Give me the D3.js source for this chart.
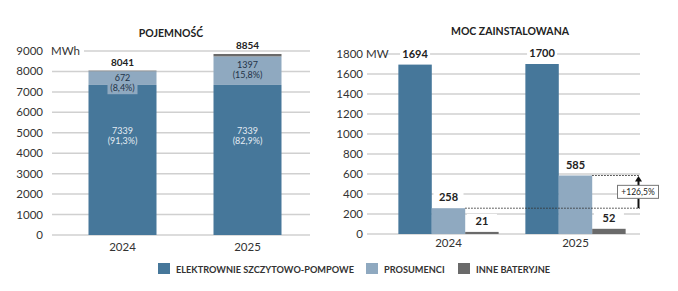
<!DOCTYPE html>
<html>
<head>
<meta charset="utf-8">
<script src="https://cdn.jsdelivr.net/npm/d3@7"></script>
<style>
  body { margin: 0; background: #fff; }
  text { font-family: Lato, "Open Sans", sans-serif; }
</style>
</head>
<body>
<div id="chart"></div>
<script>
// data
var years = ["2024", "2025"];
var seriesNames = ["ELEKTROWNIE SZCZYTOWO-POMPOWE", "PROSUMENCI", "INNE BATERYJNE"];
var capacity = [ // MWh
  [7339, 672, 30],
  [7339, 1397, 118]
];
var capacityTotals = [8041, 8854];
var capacityShares = [["91,3%", "8,4%"], ["82,9%", "15,8%"]];
var power = [ // MW
  [1694, 258, 21],
  [1700, 585, 52]
];
var capTicks = [0, 1000, 2000, 3000, 4000, 5000, 6000, 7000, 8000, 9000];
var powTicks = [0, 200, 400, 600, 800, 1000, 1200, 1400, 1600, 1800];
var growthLabel = "+126,5%";

var WIDTH = 678, HEIGHT = 291;
var colors = ["#46779a", "#8fa9c0", "#6a6a6a"];

var svg = d3.select("#chart").append("svg")
  .attr("width", WIDTH).attr("height", HEIGHT);

// ---------- left chart: POJEMNOŚĆ ----------
var yL = d3.scaleLinear().domain([0, 9000]).range([235, 51]);
var xL = d3.scaleBand().domain(years).range([60, 310])
  .paddingInner(0.456).paddingOuter(0.228);

var gL = svg.append("g");

gL.selectAll("line.grid").data(capTicks).enter().append("line")
  .attr("x1", function (d) { return d == 9000 ? 84 : 52; })
  .attr("x2", 310)
  .attr("y1", function (d) { return yL(d); })
  .attr("y2", function (d) { return yL(d); })
  .style("stroke", "#d0d0d0").style("stroke-width", 1.5);

gL.selectAll("text.tick").data(capTicks).enter().append("text")
  .attr("x", 43).attr("y", function (d) { return yL(d) + 4; })
  .attr("text-anchor", "end")
  .style("font-size", "11.5px").style("fill", "#333")
  .text(function (d) { return d; });

gL.append("text").attr("x", 51).attr("y", yL(9000) + 4)
  .style("font-size", "11.5px").style("fill", "#333").text("MWh");

gL.append("text").attr("x", 171).attr("y", 37).attr("text-anchor", "middle")
  .style("font-size", "10.5px").style("font-weight", "bold").style("fill", "#222")
  .text("POJEMNOŚĆ");

// stacked bars
var stack = capacity.map(function (row, i) {
  var acc = 0;
  return row.map(function (v, j) {
    var seg = { year: years[i], s: j, y0: acc, y1: acc + v, v: v };
    acc += v;
    return seg;
  });
});

gL.selectAll("g.bar").data(stack).enter().append("g")
  .selectAll("rect").data(function (d) { return d; }).enter().append("rect")
  .attr("x", function (d) { return xL(d.year); })
  .attr("width", xL.bandwidth())
  .attr("y", function (d) { return yL(d.y1); })
  .attr("height", function (d) { return yL(d.y0) - yL(d.y1); })
  .style("fill", function (d) { return colors[d.s]; });

stack.forEach(function (segs, i) {
  var cx = xL(years[i]) + xL.bandwidth() / 2;
  // teal segment labels
  gL.append("text").attr("x", cx).attr("y", yL(segs[0].y1) + 49)
    .attr("text-anchor", "middle").style("font-size", "9px").style("fill", "#e4ecf3")
    .text(segs[0].v);
  gL.append("text").attr("x", cx).attr("y", yL(segs[0].y1) + 59.5)
    .attr("text-anchor", "middle").style("font-size", "9px").style("fill", "#e4ecf3")
    .text("(" + capacityShares[i][0] + ")");
  // prosumer labels
  var top = yL(segs[1].y1);
  if (i == 0) {
    gL.append("rect").attr("x", cx - 15).attr("y", top + 13).attr("width", 30).attr("height", 10)
      .style("fill", colors[1]);
  }
  gL.append("text").attr("x", cx).attr("y", top + (i == 0 ? 9.5 : 11.5))
    .attr("text-anchor", "middle").style("font-size", "9px").style("fill", "#1f3347")
    .text(segs[1].v);
  gL.append("text").attr("x", cx).attr("y", top + (i == 0 ? 20 : 22))
    .attr("text-anchor", "middle").style("font-size", "9px").style("fill", "#1f3347")
    .text("(" + capacityShares[i][1] + ")");
  // totals
  gL.append("text").attr("x", cx).attr("y", yL(capacityTotals[i]) - 5)
    .attr("text-anchor", "middle").style("font-size", "10px").style("font-weight", "bold")
    .style("fill", "#222").text(capacityTotals[i]);
  // x labels
  gL.append("text").attr("x", cx).attr("y", 251).attr("text-anchor", "middle")
    .style("font-size", "11.5px").style("fill", "#333").text(years[i]);
});

// ---------- right chart: MOC ZAINSTALOWANA ----------
var yR = d3.scaleLinear().domain([0, 1800]).range([234, 54]);
var x0 = d3.scaleBand().domain(years).range([385, 639]);
var x1 = d3.scaleBand().domain(d3.range(3)).range([0, x0.bandwidth()])
  .paddingInner(0).paddingOuter(0.4);

var gR = svg.append("g");

gR.selectAll("line.grid").data(powTicks).enter().append("line")
  .attr("x1", function (d) { return d == 1800 ? 386 : 367; })
  .attr("x2", 640)
  .attr("y1", function (d) { return yR(d); })
  .attr("y2", function (d) { return yR(d); })
  .style("stroke", "#d0d0d0").style("stroke-width", 1.5);

gR.selectAll("text.tick").data(powTicks).enter().append("text")
  .attr("x", 363).attr("y", function (d) { return yR(d) + 4; })
  .attr("text-anchor", "end")
  .style("font-size", "11.5px").style("fill", "#333")
  .text(function (d) { return d; });

gR.append("text").attr("x", 366).attr("y", yR(1800) + 4)
  .style("font-size", "11.5px").style("fill", "#333").text("MW");

gR.append("text").attr("x", 510).attr("y", 35).attr("text-anchor", "middle")
  .style("font-size", "10.5px").style("font-weight", "bold").style("fill", "#222")
  .text("MOC ZAINSTALOWANA");

var groups = gR.selectAll("g.grp").data(power).enter().append("g")
  .attr("transform", function (d, i) { return "translate(" + x0(years[i]) + ",0)"; });

groups.selectAll("rect").data(function (d) { return d; }).enter().append("rect")
  .attr("x", function (d, j) { return x1(j); })
  .attr("width", x1.bandwidth())
  .attr("y", function (d) { return yR(d); })
  .attr("height", function (d) { return yR(0) - yR(d); })
  .style("fill", function (d, j) { return colors[j]; });

// value labels with white background
groups.selectAll("rect.lbg").data(function (d) { return d; }).enter().append("rect")
  .attr("x", function (d, j) { return x1(j) + x1.bandwidth() / 2 - 15; })
  .attr("y", function (d) { return yR(d) - 18; })
  .attr("width", 30).attr("height", 13)
  .style("fill", "#fff");

groups.selectAll("text.val").data(function (d) { return d; }).enter().append("text")
  .attr("x", function (d, j) { return x1(j) + x1.bandwidth() / 2; })
  .attr("y", function (d) { return yR(d) - 7; })
  .attr("text-anchor", "middle")
  .style("font-size", "11px").style("font-weight", "bold").style("fill", "#222")
  .text(function (d) { return d; });

years.forEach(function (yr, i) {
  gR.append("text").attr("x", x0(yr) + x0.bandwidth() / 2).attr("y", 247)
    .attr("text-anchor", "middle").style("font-size", "11.5px").style("fill", "#333").text(yr);
});

// growth annotation
var lowY = yR(power[0][1]), highY = yR(power[1][1]);
gR.append("line")
  .attr("x1", x0("2024") + x1(1) + x1.bandwidth()).attr("x2", 640)
  .attr("y1", lowY).attr("y2", lowY)
  .style("stroke", "#333").style("stroke-width", 1).style("stroke-dasharray", "1.5,1.5");
gR.append("line")
  .attr("x1", x0("2025") + x1(1) + x1.bandwidth()).attr("x2", 640)
  .attr("y1", highY).attr("y2", highY)
  .style("stroke", "#333").style("stroke-width", 1).style("stroke-dasharray", "1.5,1.5");
gR.append("line").attr("x1", 638.5).attr("x2", 638.5)
  .attr("y1", lowY).attr("y2", highY + 4)
  .style("stroke", "#111").style("stroke-width", 2);
gR.append("path")
  .attr("d", "M" + 635 + "," + (highY + 6) + "L638.5," + (highY + 0.5) + "L642," + (highY + 6) + "Z")
  .style("fill", "#111");
var boxY = (lowY + highY) / 2;
gR.append("rect").attr("x", 617.5).attr("y", boxY - 6.5).attr("width", 41).attr("height", 13)
  .style("fill", "#fff").style("stroke", "#777").style("stroke-width", 1);
gR.append("text").attr("x", 638).attr("y", boxY + 3).attr("text-anchor", "middle")
  .style("font-size", "8.5px").style("fill", "#222").text(growthLabel);

// ---------- legend ----------
var legendX = [158, 366, 458];
var leg = svg.selectAll("g.leg").data(seriesNames).enter().append("g")
  .attr("transform", function (d, i) { return "translate(" + legendX[i] + ",263)"; });
leg.append("rect").attr("width", 12).attr("height", 11)
  .style("fill", function (d, i) { return colors[i]; });
leg.append("text").attr("x", 18).attr("y", 9.5)
  .style("font-size", "9.2px").style("font-weight", "bold").style("fill", "#333")
  .text(function (d) { return d; });
</script>
</body>
</html>
